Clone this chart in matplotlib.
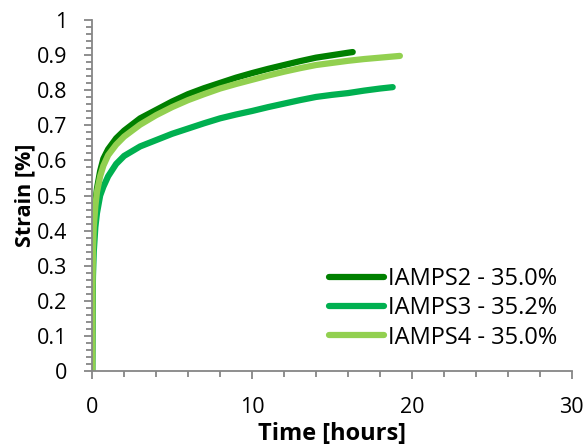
import matplotlib.pyplot as plt
from matplotlib.ticker import MultipleLocator

# values (time in hours, strain in %)
t2 = [0, 0.02, 0.05, 0.1, 0.2, 0.3, 0.5, 0.7, 1.0, 1.5, 2, 3, 4, 5, 6, 7, 8, 9, 10, 11, 12, 13, 14, 15, 16, 16.3]
s2 = [0, 0.25, 0.36, 0.42, 0.48, 0.52, 0.57, 0.605, 0.632, 0.663, 0.685, 0.72, 0.744, 0.768, 0.789, 0.806, 0.821, 0.836, 0.849, 0.861, 0.872, 0.883, 0.893, 0.9, 0.907, 0.909]

t3 = [0, 0.02, 0.05, 0.1, 0.2, 0.3, 0.5, 0.7, 1.0, 1.5, 2, 3, 4, 5, 6, 7, 8, 9, 10, 11, 12, 13, 14, 15, 16, 17, 18, 18.8]
s3 = [0, 0.18, 0.27, 0.34, 0.41, 0.45, 0.5, 0.525, 0.555, 0.59, 0.613, 0.64, 0.658, 0.676, 0.691, 0.706, 0.72, 0.731, 0.741, 0.752, 0.762, 0.772, 0.781, 0.787, 0.792, 0.799, 0.805, 0.809]

t4 = [0, 0.02, 0.05, 0.1, 0.2, 0.3, 0.5, 0.7, 1.0, 1.5, 2, 3, 4, 5, 6, 7, 8, 9, 10, 11, 12, 13, 14, 15, 16, 17, 18, 19.25]
s4 = [0, 0.24, 0.34, 0.41, 0.47, 0.51, 0.555, 0.585, 0.615, 0.645, 0.668, 0.702, 0.729, 0.752, 0.772, 0.789, 0.805, 0.818, 0.83, 0.842, 0.853, 0.863, 0.872, 0.878, 0.884, 0.889, 0.893, 0.898]

labels = ["IAMPS2 - 35.0%", "IAMPS3 - 35.2%", "IAMPS4 - 35.0%"]
colors = ["#008000", "#00B050", "#92D050"]

plt.rcParams['font.family'] = ['Open Sans', 'DejaVu Sans']

fig = plt.figure(figsize=(5.87, 4.47), dpi=100)
ax = fig.add_axes([0.157, 0.170, 0.817, 0.785])

for t, s, lab, c in zip([t2, t3, t4], [s2, s3, s4], labels, colors):
    ax.plot(t, s, color=c, lw=4.5, label=lab, solid_capstyle='round')

ax.set_xlim(0, 30)
ax.set_ylim(0, 1)
ax.xaxis.set_major_locator(MultipleLocator(10))
ax.xaxis.set_minor_locator(MultipleLocator(2))
ax.yaxis.set_minor_locator(MultipleLocator(0.02))
ax.set_yticks([0, 0.1, 0.2, 0.3, 0.4, 0.5, 0.6, 0.7, 0.8, 0.9, 1])
ax.set_yticklabels(["0", "0.1", "0.2", "0.3", "0.4", "0.5", "0.6", "0.7", "0.8", "0.9", "1"])

for sp in ["top", "right"]:
    ax.spines[sp].set_visible(False)
for sp in ["left", "bottom"]:
    ax.spines[sp].set_color("#868686")
    ax.spines[sp].set_linewidth(1.3)

ax.tick_params(which='major', length=5.8, width=1.3, color="#868686", labelsize=15.5)
ax.tick_params(which='minor', length=4.3, width=1.3, color="#868686")
ax.tick_params(axis='y', which='major', pad=12)
ax.tick_params(axis='x', which='major', pad=13)

ax.set_xlabel("Time [hours]", fontsize=17, fontweight='bold', labelpad=3)
ax.set_ylabel("Strain [%]", fontsize=15.5, fontweight='bold', labelpad=1)

ax.legend(loc='lower right', bbox_to_anchor=(0.99, 0.034), frameon=False, fontsize=17,
          handlelength=2.33, handletextpad=0.17, labelspacing=0.23, borderaxespad=0)

plt.savefig("out.png", dpi=100)
